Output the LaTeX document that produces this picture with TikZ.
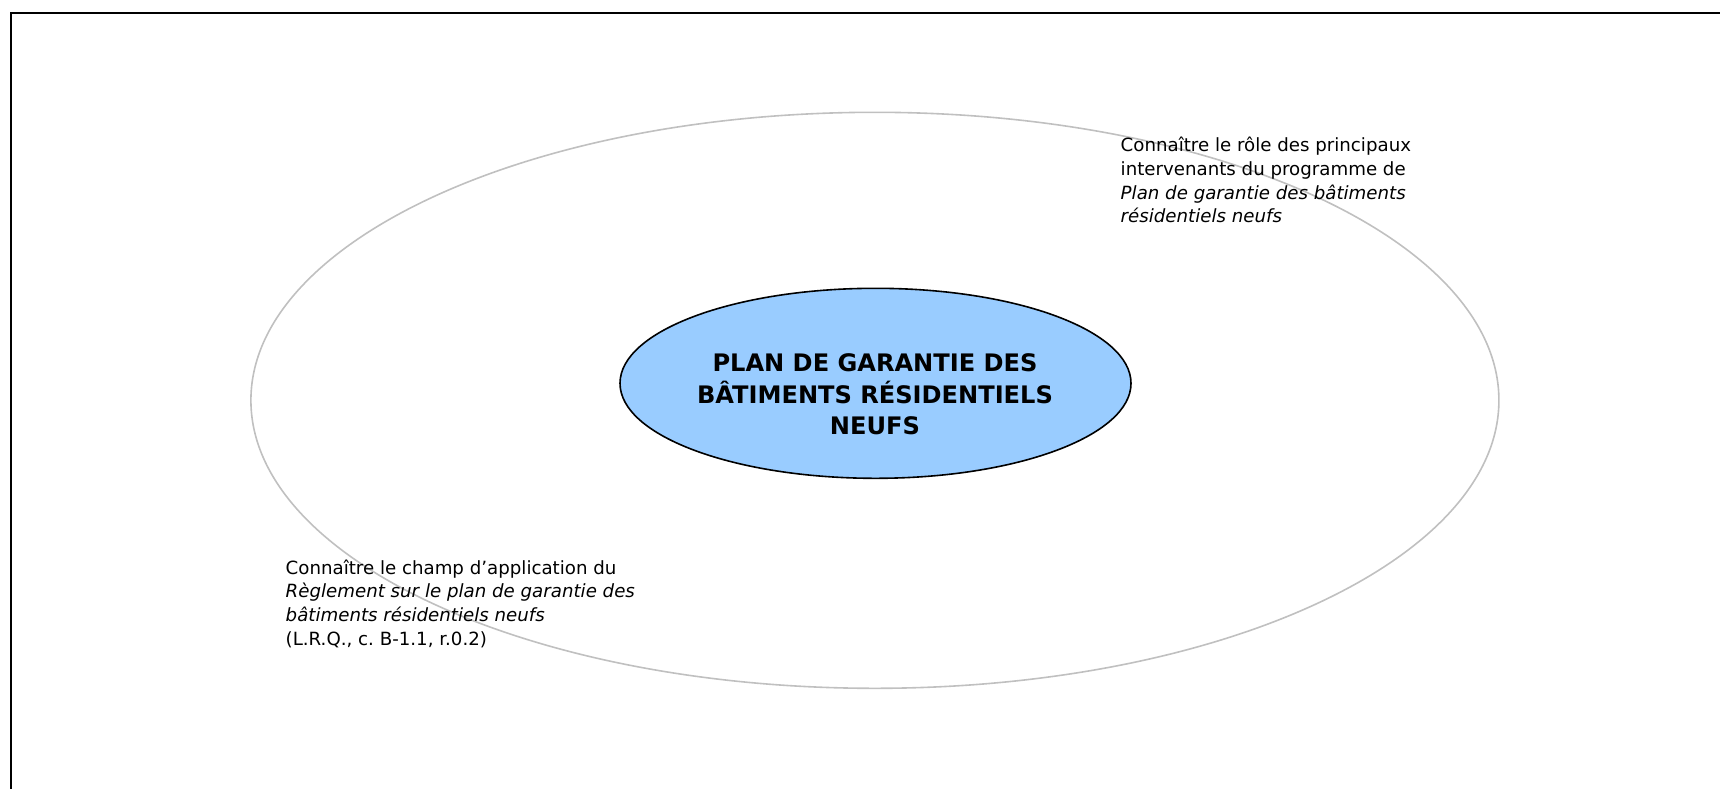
\documentclass[tikz,border=0pt]{standalone}
\usepackage{fontspec}
\setmainfont{DejaVu Sans}
\usetikzlibrary{shapes.geometric}
\frenchspacing
\definecolor{ringgray}{HTML}{C0C0C0}
\definecolor{coreblue}{HTML}{99CCFF}
\tikzset{
  frameline/.style={line width=2pt, black},
  ring/.style={draw=ringgray, line width=1.6pt},
  core/.style={draw=black, fill=coreblue, line width=1.6pt},
  coretext/.style={inner sep=0pt, align=center, anchor=north,
    font=\fontsize{24.1}{31}\selectfont\bfseries},
  goaltext/.style={inner sep=0pt, align=left, anchor=north west,
    font=\fontsize{18.2}{23.8}\selectfont}
}
\begin{document}
\begin{tikzpicture}[x=1pt,y=-1pt]
\useasboundingbox (0,0) rectangle (1720,788);
% frame (only top and left edges lie inside the picture)
\draw[frameline] (11,800) -- (11,13) -- (1730,13);
% outer ring
\draw[ring] (874.9,400.3) ellipse [x radius=624, y radius=288];
% central ellipse
\draw[core] (875.5,383.3) ellipse [x radius=255.5, y radius=95];
\node[coretext] (core) at (875,349.1)
  {\strut PLAN DE GARANTIE DES\\BÂTIMENTS RÉSIDENTIELS\\NEUFS};
% goal texts
\node[goaltext] (roles) at (1120.5,134.6)
  {\strut Connaître le rôle des principaux\\intervenants du programme de\\\textit{Plan de garantie des bâtiments}\\\textit{résidentiels neufs}};
\node[goaltext] (scope) at (285.5,557.3)
  {\strut Connaître le champ d’application du\\\textit{Règlement sur le plan de garantie des}\\\textit{bâtiments résidentiels neufs}\\(L.R.Q., c.\ B-1.1, r.0.2)};
\end{tikzpicture}
\end{document}
